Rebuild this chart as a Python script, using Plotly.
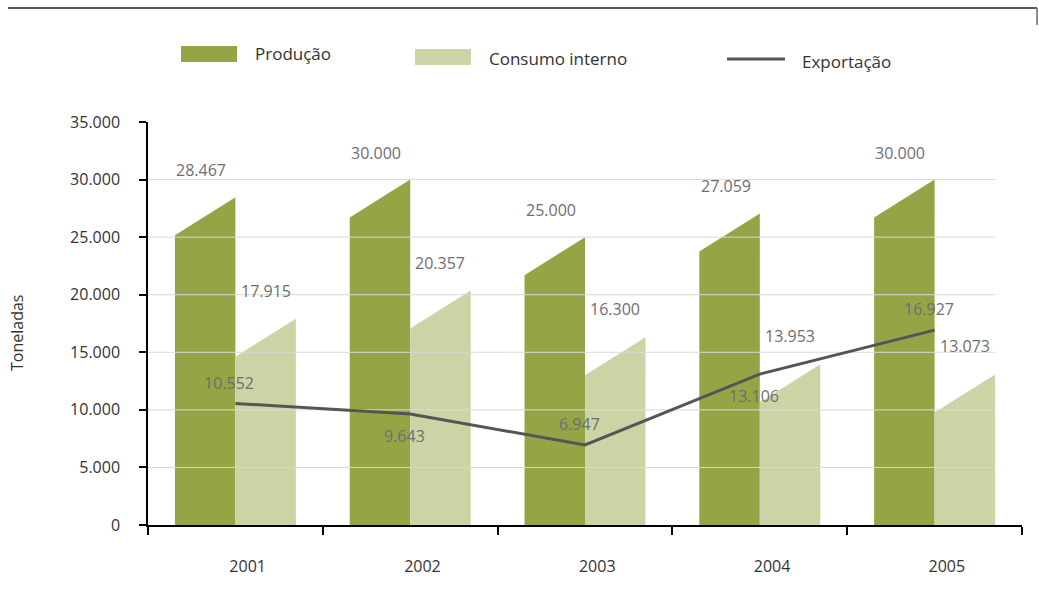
import plotly.graph_objects as go

# Data (toneladas)
anos = ["2001", "2002", "2003", "2004", "2005"]
producao = [28467, 30000, 25000, 27059, 30000]
consumo_interno = [17915, 20357, 16300, 13953, 13073]
exportacao = [10552, 9643, 6947, 13106, 16927]
y_ticks = [0, 5000, 10000, 15000, 20000, 25000, 30000, 35000]

# Style
COR_PROD = "#95a546"
COR_CONS = "#cbd4a5"
COR_EXP = "#555555"
COR_GRID = "#d9d9d9"
COR_VALOR = "#6e6e6e"
COR_TEXTO = "#333333"
FONTE = "Open Sans"
BAR_W = 0.346        # bar width in category units
SLANT = 3300         # drop of the bar top's left corner (t)
LABEL_SHIFT = 0.07   # year labels sit a little right of the category centre

W, H = 1039, 603
ML, MR, MT, MB = 148, 17, 122, 78


def fmt(v):
    return f"{v:,}".replace(",", ".")


def px_x(px):
    return (px - ML) / (W - ML - MR)


def px_y(py):
    return (H - MB - py) / (H - MT - MB)


fig = go.Figure()


def slanted_bar(x_left, value, color, name):
    xs = [x_left, x_left, x_left + BAR_W, x_left + BAR_W, x_left]
    ys = [0, value - SLANT, value, 0, 0]
    fig.add_trace(go.Scatter(
        x=xs, y=ys, mode="lines", fill="toself", fillcolor=color,
        line=dict(width=0, color=color), name=name, showlegend=False,
        hoverinfo="skip"))


for i, (p, c) in enumerate(zip(producao, consumo_interno)):
    slanted_bar(i - BAR_W, p, COR_PROD, "Produção")
    slanted_bar(i, c, COR_CONS, "Consumo interno")

# Horizontal gridlines drawn over the bars
gx, gy = [], []
for t in y_ticks[1:-1]:
    gx += [-0.5, len(anos) - 1 + BAR_W, None]
    gy += [t, t, None]
fig.add_trace(go.Scatter(x=gx, y=gy, mode="lines",
                         line=dict(color=COR_GRID, width=1),
                         showlegend=False, hoverinfo="skip"))

# Export line
fig.add_trace(go.Scatter(x=list(range(len(anos))), y=exportacao, mode="lines",
                         line=dict(color=COR_EXP, width=3),
                         name="Exportação", showlegend=False))

annotations = []
for i, (p, c, e) in enumerate(zip(producao, consumo_interno, exportacao)):
    annotations.append(dict(x=i - BAR_W / 2, y=p, text=fmt(p), showarrow=False,
                            xshift=-4, yshift=27,
                            font=dict(family=FONTE, size=16, color=COR_VALOR)))
    annotations.append(dict(x=i + BAR_W / 2, y=c, text=fmt(c), showarrow=False,
                            xshift=0, yshift=28,
                            font=dict(family=FONTE, size=16, color=COR_VALOR)))
    acima = i % 2 == 0
    annotations.append(dict(x=i, y=e, text=fmt(e), showarrow=False,
                            xshift=-6, yshift=21 if acima else -22,
                            font=dict(family=FONTE, size=16, color=COR_VALOR)))

# Axis title
annotations.append(dict(xref="paper", yref="paper", x=px_x(17), y=px_y(333),
                        xanchor="center", yanchor="middle",
                        text="Toneladas", textangle=-90, showarrow=False,
                        font=dict(family=FONTE, size=16, color=COR_TEXTO)))

# Legend
shapes = []
legenda = [
    ("rect", COR_PROD, 181, 237, 46, 62, "Produção", 253, 54),
    ("rect", COR_CONS, 415, 471, 49, 65, "Consumo interno", 487, 58),
    ("line", COR_EXP, 727, 785, 59, 59, "Exportação", 800, 61),
]
for kind, cor, x0, x1, y0, y1, txt, tx, ty in legenda:
    if kind == "rect":
        shapes.append(dict(type="rect", xref="paper", yref="paper",
                           x0=px_x(x0), x1=px_x(x1), y0=px_y(y0), y1=px_y(y1),
                           fillcolor=cor, line=dict(width=0)))
    else:
        shapes.append(dict(type="line", xref="paper", yref="paper",
                           x0=px_x(x0), x1=px_x(x1), y0=px_y(y0), y1=px_y(y1),
                           line=dict(color=cor, width=3)))
    annotations.append(dict(xref="paper", yref="paper", x=px_x(tx), y=px_y(ty),
                            xanchor="left", yanchor="middle", text=txt,
                            showarrow=False,
                            font=dict(family=FONTE, size=17, color=COR_TEXTO)))

# Frame line at the top
shapes.append(dict(type="line", xref="paper", yref="paper",
                   x0=px_x(8), x1=px_x(1037), y0=px_y(8), y1=px_y(8),
                   line=dict(color="#222222", width=1.5)))
shapes.append(dict(type="line", xref="paper", yref="paper",
                   x0=px_x(1037), x1=px_x(1037), y0=px_y(8), y1=px_y(25),
                   line=dict(color="#666666", width=1.5)))

fig.update_layout(
    width=W, height=H,
    margin=dict(l=ML, r=MR, t=MT, b=MB),
    paper_bgcolor="white", plot_bgcolor="white",
    separators=",.",
    showlegend=False,
    annotations=annotations,
    shapes=shapes,
    xaxis=dict(
        range=[-0.5, len(anos) - 0.5],
        tickmode="array",
        tickvals=[i + LABEL_SHIFT for i in range(len(anos))],
        ticktext=anos,
        ticks="",
        showline=True, linecolor="black", linewidth=1.5,
        showgrid=False, zeroline=False,
        ticklabelstandoff=26,
        tickfont=dict(family=FONTE, size=16, color=COR_TEXTO),
        minor=dict(tickmode="array",
                   tickvals=[i - 0.5 for i in range(len(anos) + 1)],
                   ticks="outside", ticklen=8, tickwidth=1.5,
                   tickcolor="black", showgrid=False),
    ),
    yaxis=dict(
        range=[0, 35000],
        tickmode="array",
        tickvals=y_ticks,
        ticktext=[fmt(v) for v in y_ticks],
        ticks="outside", ticklen=7, tickwidth=1.5, tickcolor="black",
        showline=True, linecolor="black", linewidth=1.5,
        showgrid=False, zeroline=False,
        ticklabelstandoff=16,
        tickfont=dict(family=FONTE, size=16, color=COR_TEXTO),
    ),
)

fig.write_html("out.html")
